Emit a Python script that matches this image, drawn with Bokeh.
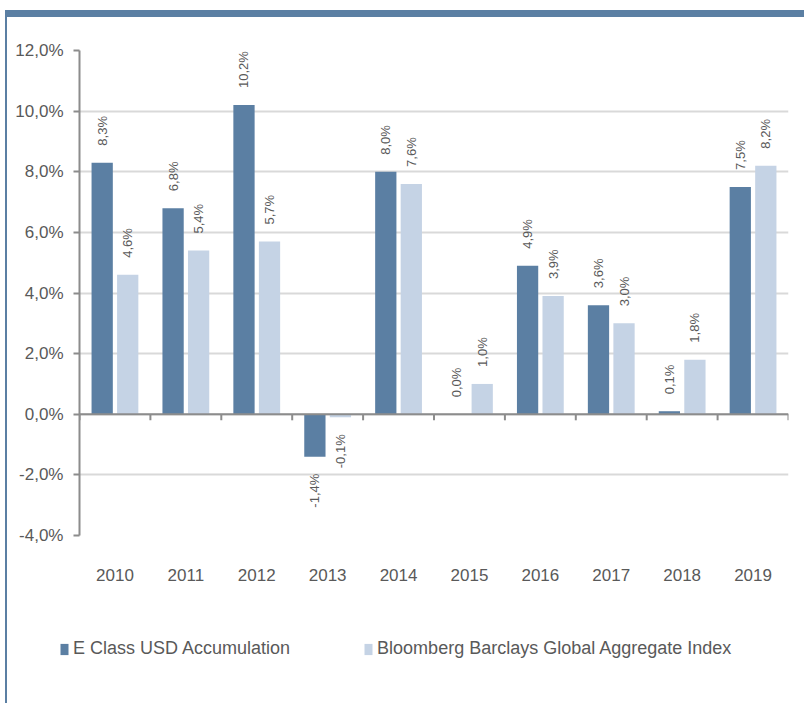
import math
from bokeh.plotting import figure
from bokeh.models import (Range1d, FixedTicker, ColumnDataSource, Legend, LegendItem, Span)
from bokeh.layouts import column
from bokeh.core.properties import value
from bokeh.embed import file_html
from bokeh.resources import INLINE

years = ["2010", "2011", "2012", "2013", "2014", "2015", "2016", "2017", "2018", "2019"]
fund = [8.3, 6.8, 10.2, -1.4, 8.0, 0.0, 4.9, 3.6, 0.1, 7.5]
index = [4.6, 5.4, 5.7, -0.1, 7.6, 1.0, 3.9, 3.0, 1.8, 8.2]
series_names = ["E Class USD Accumulation", "Bloomberg Barclays Global Aggregate Index"]
y_ticks = [-4, -2, 0, 2, 4, 6, 8, 10, 12]

DARK = "#5B7FA3"
LIGHT = "#C5D3E5"
TXT = "#595959"
AXIS = "#8C8C8C"
GRID = "#D9D9D9"
FONT = "Liberation Sans"

def fmt(v):
    return f"{v:.1f}%".replace(".", ",")

n = len(years)
centers = [i + 0.5 for i in range(n)]
off = 0.18
bw = 0.3

p = figure(width=797, height=600, output_backend="svg", toolbar_location=None,
           x_range=Range1d(0, n), y_range=Range1d(min(y_ticks), max(y_ticks)),
           min_border_left=72, min_border_right=16, min_border_top=33, min_border_bottom=82)
p.outline_line_color = None
p.background_fill_color = "white"
p.border_fill_color = "white"

src = ColumnDataSource(dict(
    xd=[c - off for c in centers], xl=[c + off for c in centers],
    fund=fund, index=index))

p.vbar(x="xd", top="fund", bottom=0, width=bw, source=src, fill_color=DARK, line_color=None)
p.vbar(x="xl", top="index", bottom=0, width=bw, source=src, fill_color=LIGHT, line_color=None)

# value labels
for xs, vals in ((src.data["xd"], fund), (src.data["xl"], index)):
    pos = [(x, v, fmt(v)) for x, v in zip(xs, vals) if v >= 0]
    neg = [(x, v, fmt(v)) for x, v in zip(xs, vals) if v < 0]
    for grp, align, yo in ((pos, "left", -17), (neg, "right", 17)):
        if not grp:
            continue
        s = ColumnDataSource(dict(x=[g[0] for g in grp], y=[g[1] for g in grp], t=[g[2] for g in grp]))
        p.text(x="x", y="y", text="t", source=s, angle=math.pi / 2, text_align=align,
               text_baseline="middle", y_offset=yo, text_font=value(FONT),
               text_font_size="13px", text_color=TXT)

# zero line and category boundary ticks
p.add_layout(Span(location=0, dimension="width", line_color=AXIS, line_width=2))
bounds = list(range(n + 1))
p.segment(x0=bounds, x1=bounds, y0=[0] * len(bounds), y1=[-0.2] * len(bounds),
          line_color=AXIS, line_width=2)

# y axis
p.yaxis.ticker = FixedTicker(ticks=y_ticks)
p.yaxis.major_label_overrides = {float(t): fmt(t) for t in y_ticks}
p.yaxis.axis_line_color = AXIS
p.yaxis.axis_line_width = 2
p.yaxis.major_tick_line_color = AXIS
p.yaxis.major_tick_line_width = 2
p.yaxis.major_tick_out = 6
p.yaxis.major_tick_in = 0
p.yaxis.minor_tick_line_color = None
p.yaxis.major_label_standoff = 10
p.yaxis.major_label_text_font = FONT
p.yaxis.major_label_text_font_size = "17px"
p.yaxis.major_label_text_color = TXT

p.ygrid.ticker = FixedTicker(ticks=y_ticks)
p.ygrid.grid_line_color = GRID
p.ygrid.grid_line_width = 2
p.xgrid.grid_line_color = None

# x axis (labels only)
p.xaxis.ticker = FixedTicker(ticks=centers)
p.xaxis.major_label_overrides = {float(c): y for c, y in zip(centers, years)}
p.xaxis.axis_line_color = None
p.xaxis.major_tick_line_color = None
p.xaxis.minor_tick_line_color = None
p.xaxis.major_label_standoff = 27
p.xaxis.major_label_text_font = FONT
p.xaxis.major_label_text_font_size = "17px"
p.xaxis.major_label_text_color = TXT

# legend in its own strip below the chart
lp = figure(width=797, height=86, output_backend="svg", toolbar_location=None,
            x_range=Range1d(0, 1), y_range=Range1d(0, 1),
            min_border_left=0, min_border_right=0, min_border_top=0, min_border_bottom=0,
            x_axis_location=None, y_axis_location=None)
lp.frame_align = False
lp.outline_line_color = None
lp.background_fill_color = "white"
lp.border_fill_color = "white"
lp.xgrid.grid_line_color = None
lp.ygrid.grid_line_color = None
lr1 = lp.vbar(x=[0.5], top=[0], bottom=0, width=0, fill_color=DARK, line_color=None)
lr2 = lp.vbar(x=[0.5], top=[0], bottom=0, width=0, fill_color=LIGHT, line_color=None)
legend = Legend(items=[LegendItem(label=series_names[0], renderers=[lr1]),
                       LegendItem(label=series_names[1], renderers=[lr2])],
                orientation="horizontal", location=(52, 44),
                glyph_width=10, glyph_height=14, label_standoff=4, spacing=73,
                padding=0, margin=0, border_line_color=None, background_fill_alpha=0,
                label_text_font=FONT, label_text_font_size="18px", label_text_color=TXT)
lp.add_layout(legend, "center")

layout = column(p, lp, margin=(10, 0, 0, 5),
                styles={"border-top": "7px solid " + DARK, "border-left": "2px solid " + DARK})

open("out.html", "w").write(file_html(layout, INLINE))
